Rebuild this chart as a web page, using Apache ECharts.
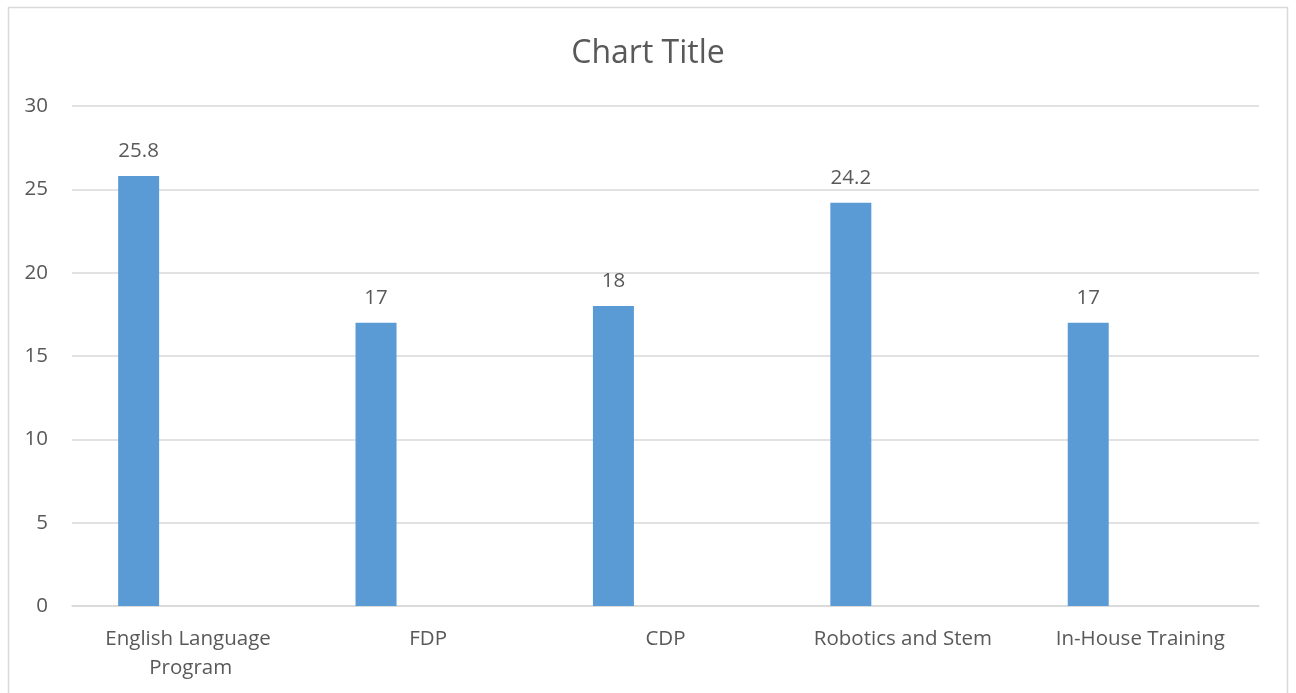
<!DOCTYPE html>
<html>
<head>
<meta charset="utf-8">
<script src="https://cdn.jsdelivr.net/npm/echarts@6/dist/echarts.min.js"></script>
<style>
  html, body { margin: 0; padding: 0; background: #fff; }
  #chart { width: 1296px; height: 693px; }
</style>
</head>
<body>
<div id="chart"></div>
<script>
const categories = ['English Language Program', 'FDP', 'CDP', 'Robotics and Stem', 'In-House Training'];
const seriesValues = [25.8, 17, 18, 24.2, 17];
const companionValues = []; // second series of the workbook, no values entered
const yTicks = { min: 0, max: 30, interval: 5 };

const textColor = '#595959';
const lineColor = '#d9d9d9';
const fontFamily = '"Open Sans", "DejaVu Sans", sans-serif';

const chart = echarts.init(document.getElementById('chart'), null, { renderer: 'canvas' });
chart.setOption({
  backgroundColor: '#ffffff',
  animation: false,
  graphic: [{
    type: 'rect',
    shape: { x: 8.5, y: 7.5, width: 1279, height: 700 },
    style: { fill: 'none', stroke: lineColor, lineWidth: 1.5 },
    silent: true
  }],
  title: {
    text: 'Chart Title',
    left: 'center',
    top: 33,
    textStyle: { color: textColor, fontFamily: fontFamily, fontSize: 32, fontWeight: 'normal' }
  },
  grid: { left: 72, right: 37, top: 106, bottom: 87, containLabel: false },
  xAxis: {
    type: 'category',
    data: categories,
    axisLine: { show: true, lineStyle: { color: lineColor, width: 1.5 } },
    axisTick: { show: false },
    axisLabel: {
      color: textColor,
      fontFamily: fontFamily,
      fontSize: 20.5,
      lineHeight: 29,
      margin: 19,
      interval: 0,
      width: 210,
      overflow: 'break'
    }
  },
  yAxis: {
    type: 'value',
    min: yTicks.min,
    max: yTicks.max,
    interval: yTicks.interval,
    axisLine: { show: false },
    axisTick: { show: false },
    splitLine: { lineStyle: { color: lineColor, width: 1.5 } },
    axisLabel: { color: textColor, fontFamily: fontFamily, fontSize: 20.5, margin: 24 }
  },
  series: [
    {
      name: 'Series 1',
      type: 'bar',
      data: seriesValues,
      barWidth: 41,
      barGap: '154%',
      itemStyle: { color: '#5b9bd5' },
      label: {
        show: true,
        position: 'top',
        distance: 14,
        color: textColor,
        fontFamily: fontFamily,
        fontSize: 20.5
      }
    },
    {
      name: 'Series 2',
      type: 'bar',
      data: companionValues,
      barWidth: 41,
      itemStyle: { color: '#ed7d31' }
    }
  ]
});
</script>
</body>
</html>
